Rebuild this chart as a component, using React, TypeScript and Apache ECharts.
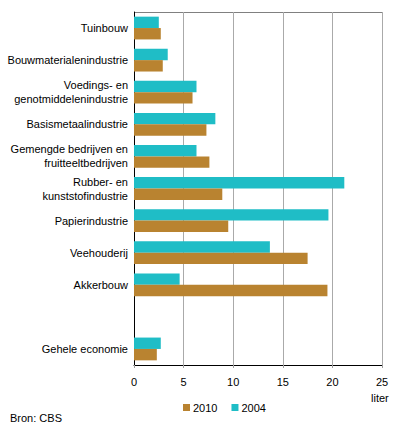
import React, { useEffect, useRef } from "react";
import * as echarts from "echarts";

const categories = [
  "Tuinbouw",
  "Bouwmaterialenindustrie",
  "Voedings- en\ngenotmiddelenindustrie",
  "Basismetaalindustrie",
  "Gemengde bedrijven en\nfruitteeltbedrijven",
  "Rubber- en\nkunststofindustrie",
  "Papierindustrie",
  "Veehouderij",
  "Akkerbouw",
  "",
  "Gehele economie",
];
const values2004 = [2.5, 3.4, 6.3, 8.2, 6.3, 21.2, 19.6, 13.7, 4.6, null, 2.7];
const values2010 = [2.7, 2.9, 5.9, 7.3, 7.6, 8.9, 9.5, 17.5, 19.5, null, 2.3];
const xTicks = { min: 0, max: 25, interval: 5 };

const FONT = "'Liberation Sans', Arial, sans-serif";

export default function App() {
  const ref = useRef<HTMLDivElement>(null);
  useEffect(() => {
    if (!ref.current) return;
    const chart = echarts.init(ref.current, undefined, { renderer: "svg" });
    chart.setOption({
      animation: false,
      textStyle: { fontFamily: FONT },
      grid: { left: 134, right: 14, top: 12, bottom: 65, containLabel: false },
      legend: {
        data: ["2010", "2004"],
        left: 178,
        top: 397,
        itemWidth: 7,
        itemHeight: 7,
        itemGap: 14,
        icon: "rect",
        textStyle: { fontSize: 11, color: "#000", fontFamily: FONT, padding: [0, 0, 0, -2] },
      },
      xAxis: {
        type: "value",
        min: xTicks.min,
        max: xTicks.max,
        interval: xTicks.interval,
        axisLine: { show: true, lineStyle: { color: "#000", width: 1 } },
        axisTick: { show: true, length: 3, lineStyle: { color: "#a0a0a0" } },
        axisLabel: { fontSize: 11, color: "#000", margin: 11, fontFamily: FONT },
        splitLine: { show: true, lineStyle: { color: "#aaaaaa", width: 1 } },
      },
      yAxis: {
        type: "category",
        data: categories,
        inverse: true,
        axisLine: { show: true, lineStyle: { color: "#000", width: 1 } },
        axisTick: { show: false },
        axisLabel: {
          fontSize: 11,
          color: "#000",
          margin: 6,
          lineHeight: 14,
          fontFamily: FONT,
        },
        splitLine: { show: false },
      },
      graphic: [
        {
          type: "line",
          shape: { x1: 134, y1: 12.5, x2: 382.5, y2: 12.5 },
          style: { stroke: "#808080", lineWidth: 1 },
          silent: true,
        },
        {
          type: "line",
          shape: { x1: 382.5, y1: 12, x2: 382.5, y2: 365 },
          style: { stroke: "#808080", lineWidth: 1 },
          silent: true,
        },
        {
          type: "text",
          left: 371,
          top: 392,
          style: { text: "liter", fontSize: 11, fill: "#000", fontFamily: FONT },
        },
        {
          type: "text",
          left: 10,
          top: 412,
          style: { text: "Bron: CBS", fontSize: 11, fill: "#000", fontFamily: FONT },
        },
      ],
      series: [
        {
          name: "2004",
          type: "bar",
          data: values2004,
          barGap: "0%",
          barCategoryGap: "29%",
          itemStyle: { color: "#1fbdc6" },
        },
        {
          name: "2010",
          type: "bar",
          data: values2010,
          barGap: "0%",
          barCategoryGap: "29%",
          itemStyle: { color: "#b98330" },
        },
      ],
    });
    return () => chart.dispose();
  }, []);
  return <div ref={ref} style={{ width: 396, height: 430, position: "absolute", left: 0, top: 0 }} />;
}
